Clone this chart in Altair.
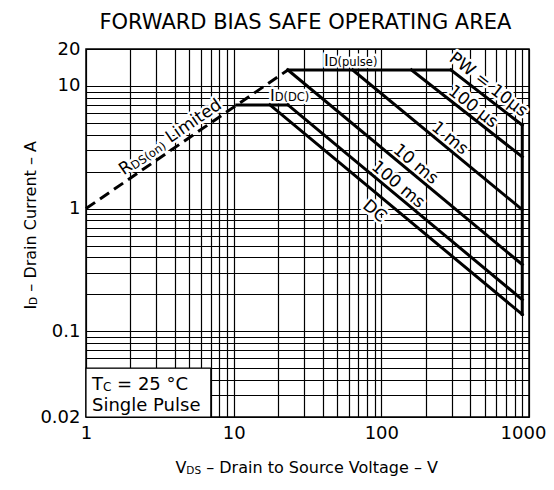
import math
import altair as alt
import pandas as pd

# ---------------- data (V, A) ----------------
x_grid = [1, 2, 3, 4, 5, 6, 7, 8, 9, 10, 20, 30, 40, 50, 60, 70, 80, 90,
          100, 200, 300, 400, 500, 600, 700, 800, 900, 1000]
x_labels = [1, 10, 100, 1000]
y_grid = [0.02, 0.03, 0.04, 0.05, 0.06, 0.07, 0.08, 0.09,
          0.1, 0.2, 0.3, 0.4, 0.5, 0.6, 0.7, 0.8, 0.9,
          1, 2, 3, 4, 5, 6, 7, 8, 9, 10, 20]
y_labels = [0.02, 0.1, 1, 10, 20]

rds_v = [1, 23.3];        rds_i = [1, 13.5]
pulse_v = [23.3, 296];    pulse_i = [13.5, 13.5]
iddc_v = [10.5, 23.3];    iddc_i = [7, 7]
pw10us_v = [296, 900];    pw10us_i = [13.5, 4.8]
pw100us_v = [160, 900];   pw100us_i = [13.5, 2.64]
pw1ms_v = [64, 900];      pw1ms_i = [13.5, 0.98]
pw10ms_v = [23.3, 900];   pw10ms_i = [13.5, 0.35]
pw100ms_v = [23.3, 900];  pw100ms_i = [7, 0.181]
dc_v = [17.6, 900];       dc_i = [7, 0.137]
vmax_v = [900, 900];      vmax_i = [4.8, 0.137]

box_v = [1, 7]
box_i = [0.02, 0.05]

# ---------------- layout ----------------
W, H = 443, 368
XPD, YPD = W / 3.0, H / 3.0
FONT = "DejaVu Sans"

ADV = {' ': .318, '(': .390, ')': .390, '-': .361, '.': .318, '=': .838,
       'A': .684, 'B': .686, 'C': .698, 'D': .770, 'E': .632, 'F': .575,
       'G': .775, 'I': .295, 'L': .557, 'N': .748, 'O': .787, 'P': .603,
       'R': .695, 'S': .635, 'T': .611, 'V': .684, 'W': .989,
       'a': .613, 'c': .550, 'd': .635, 'e': .615, 'g': .635, 'i': .278,
       'l': .278, 'm': .974, 'n': .634, 'o': .612, 'p': .635, 'r': .411,
       's': .521, 't': .392, 'u': .634, 'µ': .636, '°': .500, '–': .500}
for _d in '0123456789':
    ADV[_d] = .636


def tw(s, size):
    return sum(ADV.get(c, .6) for c in s) * size


xscale = alt.Scale(type="log", domain=[1, 1000])
yscale = alt.Scale(type="log", domain=[0.02, 20])

xlab = ":".join(f"datum.value=={v}?'{v}'" for v in x_labels) + ":''"
ylab = ":".join(f"datum.value=={v}?'{v}'" for v in y_labels) + ":''"

common_axis = dict(grid=True, gridColor="black", gridWidth=1.2, gridOpacity=1,
                   ticks=False, domain=False, title=None, labelFont=FONT,
                   labelFontSize=18, labelColor="black", labelOverlap=False,
                   labelFlush=False, labelBound=False)
xaxis = alt.Axis(values=x_grid, labelExpr=xlab, labelPadding=7,
                 labelOffset={"condition": {"test": "datum.value == 1000",
                                            "value": -6}, "value": 0},
                 **common_axis)
yaxis = alt.Axis(values=y_grid, labelExpr=ylab, labelPadding=6, **common_axis)


def X(field="v"):
    return alt.X(f"{field}:Q", scale=xscale, axis=xaxis)


def Y(field="i"):
    return alt.Y(f"{field}:Q", scale=yscale, axis=yaxis)


def on_line(vs, iss, v):
    t = (math.log10(v) - math.log10(vs[0])) / (math.log10(vs[1]) - math.log10(vs[0]))
    return 10 ** (math.log10(iss[0]) + t * (math.log10(iss[1]) - math.log10(iss[0])))


def line_angle(vs, iss):
    dx = math.log10(vs[1] / vs[0]) * XPD
    dy = math.log10(iss[1] / iss[0]) * YPD
    return math.degrees(math.atan2(-dy, dx)) % 360


halos, texts = [], []


def add_label(pieces, v=None, i=None, px=None, angle=0.0, dx=0.0, dy=0.0,
              halo=True):
    df = pd.DataFrame({"v": [v if v is not None else 1],
                       "i": [i if i is not None else 1]})
    off = dx
    for text, size, shift in pieces:
        lead = len(text) - len(text.lstrip(" "))
        off += tw(" " * lead, size)
        text = text.lstrip(" ")
        kw = dict(text=text, fontSize=size, angle=angle, dx=off, dy=dy + shift,
                  align="left", baseline="alphabetic", font=FONT)
        if px is None:
            enc = dict(x=X(), y=Y())
        else:
            enc = dict(x=alt.value(px[0]), y=alt.value(px[1]))
        if halo:
            halos.append(alt.Chart(df).mark_text(fill="white", stroke="white",
                                                 strokeWidth=5, strokeJoin="round",
                                                 **kw).encode(**enc))
        texts.append(alt.Chart(df).mark_text(color="black", **kw).encode(**enc))
        off += tw(text, size)


# ---------------- line data ----------------
segs = {"pulse": (pulse_v, pulse_i), "iddc": (iddc_v, iddc_i),
        "pw10us": (pw10us_v, pw10us_i), "pw100us": (pw100us_v, pw100us_i),
        "pw1ms": (pw1ms_v, pw1ms_i), "pw10ms": (pw10ms_v, pw10ms_i),
        "pw100ms": (pw100ms_v, pw100ms_i), "dc": (dc_v, dc_i),
        "vmax": (vmax_v, vmax_i)}
rows = []
for name, (vs, iss) in segs.items():
    for k, (a, b) in enumerate(zip(vs, iss)):
        rows.append({"seg": name, "ord": k, "v": a, "i": b})
lines_df = pd.DataFrame(rows)
rds_df = pd.DataFrame({"seg": "rds", "ord": [0, 1], "v": rds_v, "i": rds_i})

solid = alt.Chart(lines_df).mark_line(color="black", strokeWidth=3,
                                      strokeCap="square").encode(
    x=X(), y=Y(), detail="seg:N", order="ord:Q")
dashed = alt.Chart(rds_df).mark_line(color="black", strokeWidth=3,
                                     strokeDash=[11, 6]).encode(
    x=X(), y=Y(), order="ord:Q")

# ---------------- labels ----------------
BIG, SUB = 17, 11.5
a_rds = line_angle(rds_v, rds_i)
add_label([("R", BIG, 0), ("DS(on)", SUB, 1.5), (" Limited", BIG, 0)],
          v=1.9, i=on_line(rds_v, rds_i, 1.9), angle=a_rds, dy=-6)
add_label([("I", 16, 0), ("D(pulse)", SUB, 0)], v=40.9, i=13.5, dy=-4)
add_label([("I", 16, 0), ("D(DC)", SUB, 0)], v=17.6, i=7, dy=-4)

add_label([("PW = 10µs", BIG, 0)], v=296, i=13.5,
          angle=line_angle(pw10us_v, pw10us_i), dx=-8, dy=-6)
add_label([("100 µs", BIG, 0)], v=269, i=on_line(pw100us_v, pw100us_i, 269),
          angle=line_angle(pw100us_v, pw100us_i), dy=-4)
add_label([("1 ms", BIG, 0)], v=207, i=on_line(pw1ms_v, pw1ms_i, 207),
          angle=line_angle(pw1ms_v, pw1ms_i), dy=-4)
add_label([("10 ms", BIG, 0)], v=114, i=on_line(pw10ms_v, pw10ms_i, 114),
          angle=line_angle(pw10ms_v, pw10ms_i), dy=-4)
add_label([("100 ms", BIG, 0)], v=81, i=on_line(pw100ms_v, pw100ms_i, 81),
          angle=line_angle(pw100ms_v, pw100ms_i), dy=-4)
add_label([("DC", BIG, 0)], v=90, i=on_line(dc_v, dc_i, 90),
          angle=line_angle(dc_v, dc_i), dy=20)

# titles (pixel positions relative to the plot area)
title_txt = "FORWARD BIAS SAFE OPERATING AREA"
add_label([(title_txt, 21, 0)], px=(W / 2 - tw(title_txt, 21) / 2, -20),
          halo=False)
xt = [("V", 16, 0), ("DS", 10.5, 1), (" – Drain to Source Voltage – V", 16, 0)]
xt_w = sum(tw(t, s) for t, s, _ in xt)
add_label(xt, px=(W / 2 - xt_w / 2, 424), halo=False)
yt = [("I", 16, 0), ("D", 10.5, 1), (" – Drain Current – A", 16, 0)]
yt_w = sum(tw(t, s) for t, s, _ in yt)
add_label(yt, px=(-50, 176 + yt_w / 2), angle=270, halo=False)

# Tc box
box_df = pd.DataFrame({"v": [box_v[0]], "v2": [box_v[1]],
                       "i": [box_i[0]], "i2": [box_i[1]]})
box = alt.Chart(box_df).mark_rect(fill="white", stroke="black",
                                  strokeWidth=1.2).encode(
    x=X(), x2="v2:Q", y=Y(), y2="i2:Q")
box_texts_start = len(texts)
add_label([("T", 18, 0), ("C", 12, 1), (" = 25 °C", 18, 0)],
          v=1, i=0.0332, dx=6, halo=False)
add_label([("Single Pulse", 18, 0)], v=1, i=0.0224, dx=6, halo=False)
tc_texts = texts[box_texts_start:]
main_texts = texts[:box_texts_start]

chart = alt.layer(*halos, solid, dashed, *main_texts, box, *tc_texts).properties(
    width=W, height=H,
    autosize=alt.AutoSizeParams(type="none"),
    padding={"left": 78, "top": 41, "right": 17, "bottom": 59},
    background="white",
).configure_view(stroke="black", strokeWidth=1.5)

chart.save("out.html", embed_options={"renderer": "svg", "actions": False})
